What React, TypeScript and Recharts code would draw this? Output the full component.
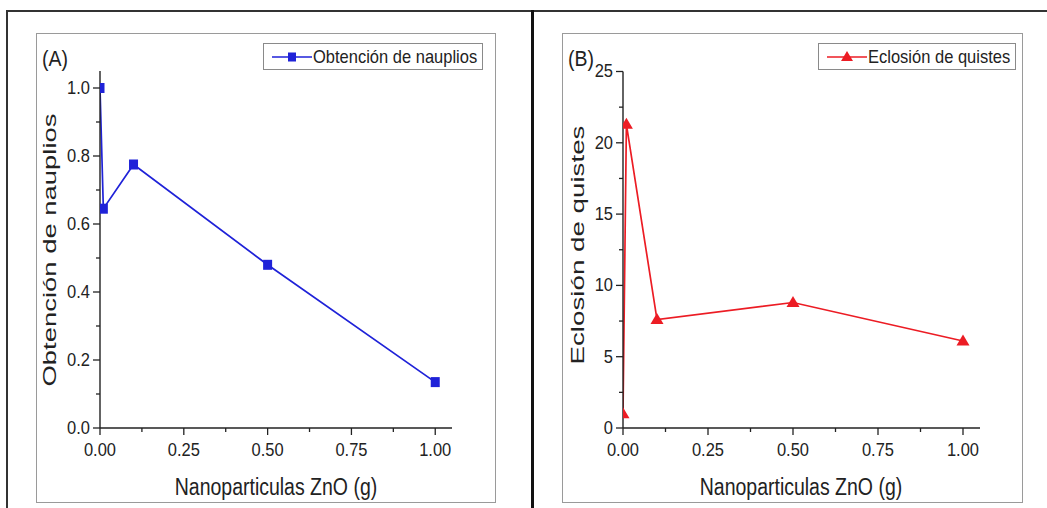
import { LineChart, Line, XAxis, YAxis, Legend } from "recharts";

const zno = [0, 0.01, 0.1, 0.5, 1.0];
const nauplios = [1.0, 0.645, 0.775, 0.48, 0.135];
const quistes = [1.0, 21.3, 7.6, 8.8, 6.1];

const xTicks = [0, 0.125, 0.25, 0.375, 0.5, 0.625, 0.75, 0.875, 1.0];
const yTicksA = [0, 0.1, 0.2, 0.3, 0.4, 0.5, 0.6, 0.7, 0.8, 0.9, 1.0];
const yTicksB = [0, 2.5, 5, 7.5, 10, 12.5, 15, 17.5, 20, 22.5, 25];

const FONT = "'Liberation Sans', Arial, sans-serif";
const BLUE = "#1f22d8";
const RED = "#ec1c24";
const INK = "#222";

const dataA = zno.map((x, i) => ({ x, y: nauplios[i] }));
const dataB = zno.map((x, i) => ({ x, y: quistes[i] }));

const isMajor = (v: number, step: number) => Math.abs(Math.round(v / step) - v / step) < 1e-6;

// the source picture is a bit stretched vertically, so text gets a scaleY
const stretch = (x: number, y: number, s: number) => `translate(${x} ${y}) scale(1 ${s}) translate(${-x} ${-y})`;

function XTick({ x, y, payload }: any) {
  const major = isMajor(payload.value, 0.25);
  return (
    <g>
      <line x1={x} x2={x} y1={y} y2={y + (major ? 7 : 4)} stroke={INK} strokeWidth={1.3} />
      {major && (
        <text x={x} y={y + 28} textAnchor="middle" fontSize={16.5} fontFamily={FONT} fill={INK} transform={stretch(x, y + 28, 1.12)}>
          {payload.value.toFixed(2)}
        </text>
      )}
    </g>
  );
}

function makeYTick(step: number, fmt: (v: number) => string) {
  return function YTick({ x, y, payload }: any) {
    const major = isMajor(payload.value, step);
    return (
      <g>
        <line x1={x} x2={x - (major ? 7 : 4)} y1={y} y2={y} stroke={INK} strokeWidth={1.3} />
        {major && (
          <text x={x - 10} y={y + 6} textAnchor="end" fontSize={16.5} fontFamily={FONT} fill={INK} transform={stretch(x, y + 6, 1.12)}>
            {fmt(payload.value)}
          </text>
        )}
      </g>
    );
  };
}

const YTickA = makeYTick(0.2, (v) => v.toFixed(1));
const YTickB = makeYTick(5, (v) => String(v));

function Square({ cx, cy }: any) {
  return <rect x={cx - 4.5} y={cy - 5} width={9} height={10} fill={BLUE} />;
}

function Triangle({ cx, cy }: any) {
  return <polygon points={`${cx},${cy - 6.5} ${cx - 6.5},${cy + 4.5} ${cx + 6.5},${cy + 4.5}`} fill={RED} />;
}

function LegendBox({ label, color, marker }: { label: string; color: string; marker: "square" | "triangle" }) {
  return (
    <div
      style={{
        border: "1px solid #8a8a8a",
        background: "#fff",
        display: "flex",
        alignItems: "center",
        height: 27,
        padding: "0 5px 0 8px",
        fontFamily: FONT,
        fontSize: 16.5,
        color: INK,
        boxSizing: "border-box",
        whiteSpace: "nowrap",
      }}
    >
      <svg width={40} height={14} style={{ marginRight: 1 }}>
        <line x1={0} x2={40} y1={7} y2={7} stroke={color} strokeWidth={1.7} />
        {marker === "square" ? (
          <rect x={16} y={2.5} width={8} height={9} fill={color} />
        ) : (
          <polygon points="20,1 14,11 26,11" fill={color} />
        )}
      </svg>
      <span style={{ display: "inline-block", transform: "scaleY(1.15)" }}>{label}</span>
    </div>
  );
}

const axisStyle = { stroke: INK, strokeWidth: 1.4 };

export default function App() {
  return (
    <div style={{ position: "absolute", left: 0, top: 0, width: 1047, height: 508, background: "#fff", overflow: "hidden" }}>
      {/* outer frame */}
      <div style={{ position: "absolute", left: 6, top: 10, width: 1060, height: 520, borderTop: "2px solid #333", borderLeft: "2px solid #333" }} />
      <div style={{ position: "absolute", left: 531, top: 10, width: 3, height: 500, background: "#111" }} />
      {/* panel boxes */}
      <div style={{ position: "absolute", left: 36, top: 33, width: 460, height: 470, border: "1px solid #9a9a9a", boxSizing: "border-box" }} />
      <div style={{ position: "absolute", left: 562, top: 33, width: 461, height: 470, border: "1px solid #9a9a9a", boxSizing: "border-box" }} />

      {/* panel A */}
      <div style={{ position: "absolute", left: 0, top: 0 }}>
        <LineChart width={530} height={508} data={dataA} margin={{ top: 71, left: 99, right: 78, bottom: 79 }}>
          <XAxis
            dataKey="x"
            type="number"
            domain={[0, 1.05]}
            ticks={xTicks}
            interval={0}
            height={1}
            tickSize={0}
            tickMargin={0}
            tickLine={false}
            tick={<XTick />}
            axisLine={axisStyle}
            allowDataOverflow
          />
          <YAxis
            type="number"
            domain={[0, 1.05]}
            ticks={yTicksA}
            interval={0}
            width={1}
            tickSize={0}
            tickMargin={0}
            tickLine={false}
            tick={<YTickA />}
            axisLine={axisStyle}
            allowDataOverflow
          />
          <Legend
            layout="horizontal"
            verticalAlign="middle"
            align="center"
            wrapperStyle={{ position: "absolute", left: 263, top: 43, width: "auto" }}
            content={() => <LegendBox label="Obtención de nauplios" color={BLUE} marker="square" />}
          />
          <Line
            type="linear"
            dataKey="y"
            name="Obtención de nauplios"
            stroke={BLUE}
            strokeWidth={1.7}
            dot={<Square />}
            activeDot={false}
            isAnimationActive={false}
          />
          <text x={42} y={66} fontSize={19.5} fontFamily={FONT} fill={INK} transform={stretch(42, 66, 1.15)}>(A)</text>
          <text
            x={56}
            y={250}
            fontSize={18.5}
            fontFamily={FONT}
            fill={INK}
            textAnchor="middle"
            textLength={273}
            lengthAdjust="spacingAndGlyphs"
            transform="rotate(-90 56 250)"
          >
            Obtención de nauplios
          </text>
          <text x={276} y={495} fontSize={19.5} fontFamily={FONT} fill={INK} textAnchor="middle" transform={stretch(276, 495, 1.18)}>
            Nanoparticulas ZnO (g)
          </text>
        </LineChart>
      </div>

      {/* panel B */}
      <div style={{ position: "absolute", left: 532, top: 0 }}>
        <LineChart width={515} height={508} data={dataB} margin={{ top: 71.5, left: 90, right: 67, bottom: 79 }}>
          <XAxis
            dataKey="x"
            type="number"
            domain={[0, 1.05]}
            ticks={xTicks}
            interval={0}
            height={1}
            tickSize={0}
            tickMargin={0}
            tickLine={false}
            tick={<XTick />}
            axisLine={axisStyle}
            allowDataOverflow
          />
          <YAxis
            type="number"
            domain={[0, 25]}
            ticks={yTicksB}
            interval={0}
            width={1}
            tickSize={0}
            tickMargin={0}
            tickLine={false}
            tick={<YTickB />}
            axisLine={axisStyle}
            allowDataOverflow
          />
          <Legend
            layout="horizontal"
            verticalAlign="middle"
            align="center"
            wrapperStyle={{ position: "absolute", left: 286, top: 43, width: "auto" }}
            content={() => <LegendBox label="Eclosión de quistes" color={RED} marker="triangle" />}
          />
          <Line
            type="linear"
            dataKey="y"
            name="Eclosión de quistes"
            stroke={RED}
            strokeWidth={1.7}
            dot={<Triangle />}
            activeDot={false}
            isAnimationActive={false}
          />
          <text x={36} y={66} fontSize={19.5} fontFamily={FONT} fill={INK} transform={stretch(36, 66, 1.15)}>(B)</text>
          <text
            x={52}
            y={245}
            fontSize={18.5}
            fontFamily={FONT}
            fill={INK}
            textAnchor="middle"
            textLength={239}
            lengthAdjust="spacingAndGlyphs"
            transform="rotate(-90 52 245)"
          >
            Eclosión de quistes
          </text>
          <text x={269} y={495} fontSize={19.5} fontFamily={FONT} fill={INK} textAnchor="middle" transform={stretch(269, 495, 1.18)}>
            Nanoparticulas ZnO (g)
          </text>
        </LineChart>
      </div>
    </div>
  );
}
